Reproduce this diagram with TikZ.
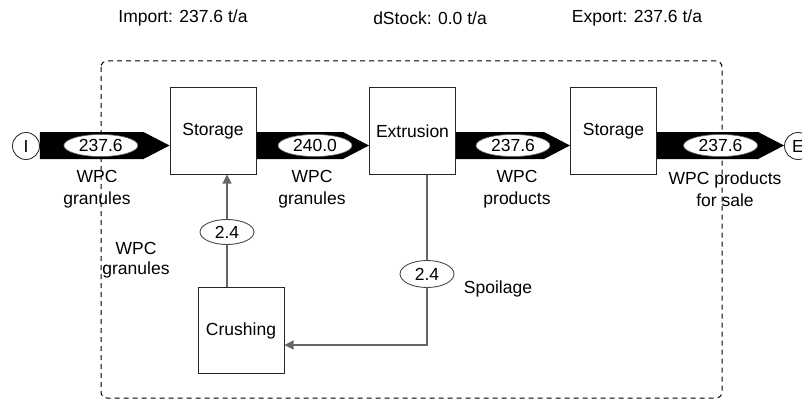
\documentclass[tikz,border=0pt]{standalone}
\usepackage{fontspec}
\setmainfont{Liberation Sans}
\usetikzlibrary{arrows.meta,shapes.geometric,calc}
\newcommand\flowarrow[2]{%
  \fill[black] (#1 |- ft) -- ($(#2 |- ft)+(-26,0)$) -- (#2 |- fm) -- ($(#2 |- fb)+(-26,0)$) -- (#1 |- fb) -- cycle;}
\begin{document}
\begin{tikzpicture}[x=1pt,y=-1pt,
  every node/.style={font=\fontsize{17.5}{22}\selectfont, inner sep=0pt},
  box/.style={draw=black!85, line width=1pt, minimum width=86pt, minimum height=86pt},
  term/.style={circle, draw=black!80, line width=0.9pt, minimum size=27pt},
  val/.style={ellipse, fill=white, draw=black!60, line width=0.6pt, minimum width=74pt, minimum height=22pt},
  valsmall/.style={ellipse, fill=white, draw=black!70, line width=0.9pt, minimum width=54pt, minimum height=25pt},
  conn/.style={draw=black!60, line width=1.2pt, -{Triangle[length=9pt,width=9pt]}},
  lbl/.style={align=center},
  frame/.style={draw=black, line width=1pt, dash pattern=on 5pt off 4pt, rounded corners=6pt},
]
\useasboundingbox (0,0) rectangle (802,401);
\coordinate (ft) at (0,132);
\coordinate (fm) at (0,145.5);
\coordinate (fb) at (0,159);
\coordinate (cx) at (227,0);
\coordinate (sp) at (427,345);

% top labels
\node (imp) at (183,18) {Import: 237.6 t/a};
\node (dst) at (430,18) {dStock: 0.0 t/a};
\node (exp) at (637,18) {Export: 237.6 t/a};

% system boundary
\draw[frame] (101,61) rectangle (722,398);

% boxes
\node[box] (S1) at (213,131) {Storage};
\node[box] (Ex) at (412.5,131) {Extrusion};
\node[box] (S2) at (613.5,131) {Storage};
\node[box] (Cr) at (241,330.5) {Crushing};
\node[term] (I) at (26,146) {I};
\node[term] (E) at (798,146) {E};

% flows
\flowarrow{I.east}{S1.west}
\flowarrow{S1.east}{Ex.west}
\flowarrow{Ex.east}{S2.west}
\flowarrow{S2.east}{E.west}

\node[val] (v1) at ($(I.east |- fm)!0.47!(S1.west |- fm)$) {237.6};
\node[val] (v2) at ($(S1.east |- fm)!0.52!(Ex.west |- fm)$) {240.0};
\node[val] (v3) at ($(Ex.east |- fm)!0.5!(S2.west |- fm)$) {237.6};
\node[val] (v4) at ($(S2.east |- fm)!0.5!(E.west |- fm)$) {237.6};

\node[lbl] (l1) at (97,189) {WPC\\granules};
\node[lbl] (l2) at (312,189) {WPC\\granules};
\node[lbl] (l3) at (517,189) {WPC\\products};
\node[lbl] (l4) at (725,189) {WPC products\\for sale};

% recycling
\draw[conn] (Cr.north -| cx) -- (S1.south -| cx);
\node[valsmall] (v5) at (227,232) {2.4};
\node[lbl, font=\fontsize{17.5}{20}\selectfont] (l5) at (136,260) {WPC\\granules};

\draw[conn] (Ex.south -| sp) -- (sp) -- (Cr.east |- sp);
\node[valsmall, minimum height=27pt] (v6) at (427,274) {2.4};
\node (l6) at (498,289) {Spoilage};
\end{tikzpicture}
\end{document}
